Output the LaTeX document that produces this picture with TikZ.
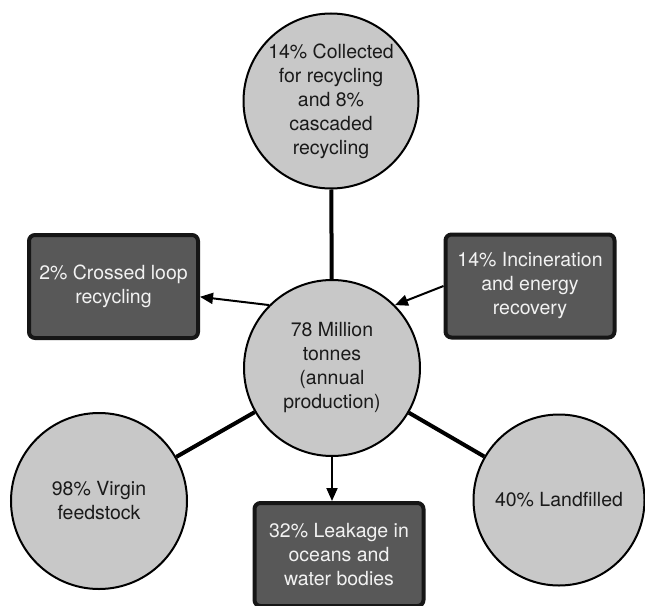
\documentclass[tikz,border=0pt]{standalone}
\usepackage{fontspec}
\setmainfont{TeX Gyre Heros}
\usetikzlibrary{arrows.meta}

\definecolor{discfill}{HTML}{C8C8C8}
\definecolor{boxfill}{HTML}{585858}
\definecolor{boxedge}{HTML}{161616}
\definecolor{boxtext}{HTML}{F2F2F2}
\definecolor{inktext}{HTML}{1A1A1A}

\tikzset{
  label font/.style={font=\fontsize{19.5}{24}\selectfont, align=center},
  disc/.style={circle, draw=black, line width=2pt, fill=discfill,
    inner sep=0pt, text=inktext, label font},
  flowbox/.style={rectangle, rounded corners=6pt, draw=boxedge, line width=4pt,
    fill=boxfill, text=boxtext, minimum width=169pt, minimum height=103pt,
    inner sep=0pt, label font},
  bond/.style={line width=4pt, black},
  flow/.style={line width=2pt, black, -{Triangle[length=13pt,width=11pt]}},
}

\begin{document}
\begin{tikzpicture}[x=1pt, y=-1pt]
  \useasboundingbox (0,0) rectangle (645,605);

  % circles
  \node[disc, minimum size=175pt] (collect) at (331,101)
    {14\% Collected\\for recycling\\and 8\%\\cascaded\\recycling};
  \node[disc, minimum size=176pt] (prod) at (332,368)
    {78 Million\\tonnes\\(annual\\production)};
  \node[disc, minimum size=176pt] (virgin) at (99,501)
    {98\% Virgin\\feedstock};
  \node[disc, minimum size=171pt] (landfill) at (559,500)
    {40\% Landfilled};

  % boxes
  \node[flowbox] (crossed) at (113.5,286.5)
    {2\% Crossed loop\\recycling};
  \node[flowbox] (incin) at (530,286)
    {14\% Incineration\\and energy\\recovery};
  \node[flowbox] (leak) at (339,554.5)
    {32\% Leakage in\\oceans and\\water bodies};

  % thick links between circles
  \draw[bond] (collect) -- (prod);
  \draw[bond] (prod) -- (virgin);
  \draw[bond] (prod) -- (landfill);

  % arrows
  \draw[flow] (prod.135) -- (crossed);
  \draw[flow] (incin.west) -- (prod.45);
  \draw[flow] (prod.south) -- (prod.south |- leak.north);
\end{tikzpicture}
\end{document}
